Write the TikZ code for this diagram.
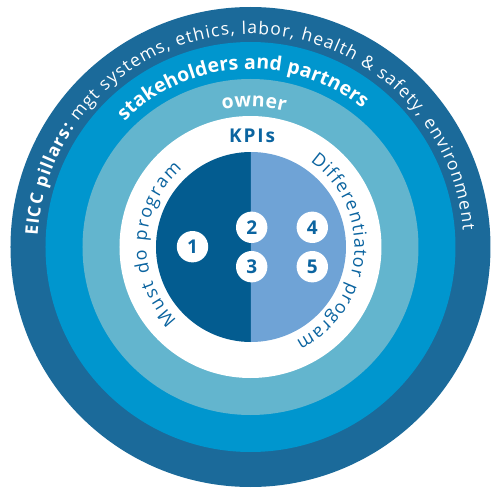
\documentclass[tikz,border=0pt]{standalone}
\usepackage{fontspec}
\setmainfont{Open Sans}
\usetikzlibrary{decorations.text}
\definecolor{ringA}{RGB}{27,106,154}
\definecolor{ringB}{RGB}{0,150,206}
\definecolor{ringC}{RGB}{99,181,206}
\definecolor{innerL}{RGB}{3,92,144}
\definecolor{innerR}{RGB}{111,163,214}
\definecolor{textblue}{RGB}{11,100,160}
\tikzset{
  numdot/.style={circle, fill=white, minimum size=31.4pt, inner sep=0pt,
    font=\fontsize{19}{22}\selectfont\bfseries, text=textblue},
}
\begin{document}
\begin{tikzpicture}[x=1pt,y=1pt]
\useasboundingbox (-250.5,-241) rectangle (240.5,247);
% rings
\fill[ringA] (0,0) circle[radius=240];
\fill[ringB] (0,0) circle[radius=205];
\fill[ringC] (0,0) circle[radius=168];
\fill[white] (0,0) circle[radius=131];
% inner halves
\fill[innerL] (0.5,-95) arc[start angle=-90, end angle=-270, radius=95] -- cycle;
\fill[innerR] (0.5,-95) arc[start angle=-90, end angle=90, radius=95] -- cycle;
% outer ring text
\path[decorate, decoration={text along path, text align={fit to path}, text color=white,
  text={|\fontsize{17.5}{20}\selectfont\bfseries|EICC pillars: |\fontsize{17.5}{20}\selectfont\mdseries|mgt systems, ethics, labor, health {\&} safety, environment}}]
  (177:213) arc[start angle=177, end angle=4.5, radius=213];
% stakeholders
\path[decorate, decoration={text along path, text align={fit to path}, text color=white,
  text={|\fontsize{19.5}{22}\selectfont\bfseries|stakeholders and partners}}]
  (135:178) arc[start angle=135, end angle=51, radius=178];
% owner
\path[decorate, decoration={text along path, text align={fit to path}, text color=white,
  text={|\fontsize{19.5}{22}\selectfont\bfseries|owner}}]
  (101.5:140) arc[start angle=101.5, end angle=75.7, radius=140];
% must do
\path[decorate, decoration={text along path, text align={fit to path}, text color=textblue,
  text={|\fontsize{18}{21}\selectfont|Must do program}}]
  (225:104) arc[start angle=225, end angle=131, radius=104];
% differentiator
\path[decorate, decoration={text along path, text align={fit to path}, text color=textblue,
  text={|\fontsize{18}{21}\selectfont|Differentiator program}}]
  (55:104) arc[start angle=55, end angle=-64, radius=104];
% KPIs
\node[font=\fontsize{19}{22}\selectfont\bfseries\addfontfeature{LetterSpace=10}, text=textblue, anchor=base, inner sep=0pt] (kpi) at (1.5,104) {KPIs};
% numbers
\node[numdot] (n1) at (-58,0.3) {1};
\node[numdot] (n2) at (1.2,19.7) {2};
\node[numdot] (n3) at (1.2,-19.7) {3};
\node[numdot] (n4) at (61.8,19.7) {4};
\node[numdot] (n5) at (61.8,-19.7) {5};
\end{tikzpicture}
\end{document}
